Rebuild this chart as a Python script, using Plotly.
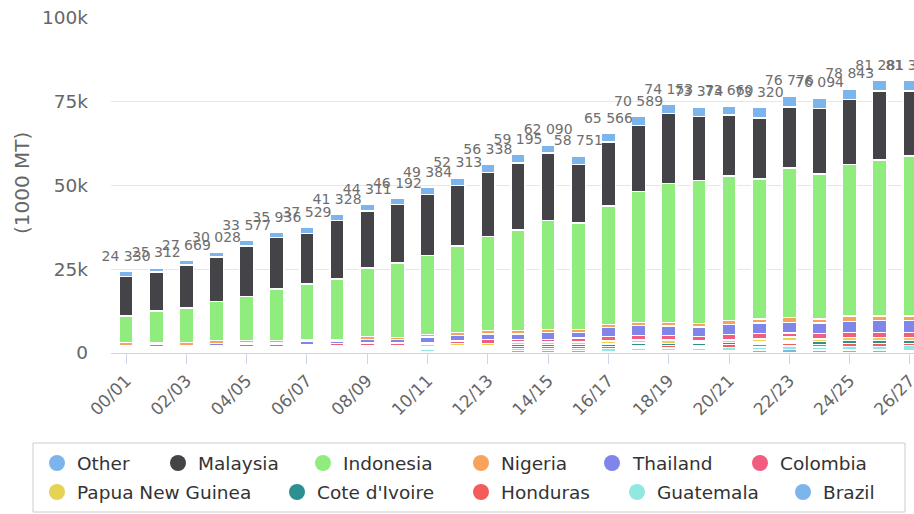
import plotly.graph_objects as go

categories = ["00/01", "01/02", "02/03", "03/04", "04/05", "05/06", "06/07", "07/08", "08/09",
              "09/10", "10/11", "11/12", "12/13", "13/14", "14/15", "15/16", "16/17", "17/18",
              "18/19", "19/20", "20/21", "21/22", "22/23", "23/24", "24/25", "25/26", "26/27"]

other = [1530, 1062, 1339, 1368, 1577, 1486, 1799, 1828, 1871, 1812, 2114, 2263, 2508, 2495,
         2440, 2441, 2566, 2649, 2633, 2844, 2590, 3230, 3316, 3084, 3153, 3111, 3167]
malaysia = [11800, 11780, 12970, 13300, 15150, 15330, 15130, 17400, 17040, 17540, 18100, 18110,
            19000, 19990, 20040, 17540, 19130, 19740, 20880, 18990, 18190, 18170, 18260, 19590,
            19380, 20520, 19390]
indonesia = [7900, 9400, 10290, 11560, 13050, 15320, 16600, 18100, 20450, 22280, 23620, 25800,
             28180, 30060, 32660, 31820, 35370, 39160, 41540, 42800, 43190, 41780, 44670, 43280,
             45250, 46590, 47720]
nigeria = [900, 400, 900, 900, 800, 800, 400, 400, 900, 500, 800, 900, 1000, 1000, 900, 900, 900,
           900, 1100, 1000, 1200, 1200, 1400, 1200, 1700, 1300, 1300]
thailand = [350, 800, 350, 700, 450, 450, 1000, 800, 1100, 1100, 1600, 1600, 1600, 1600, 2000,
            1500, 2700, 2900, 2800, 2800, 2900, 3100, 3100, 3100, 3200, 3600, 3600]
colombia = [350, 350, 350, 450, 800, 800, 500, 700, 800, 700, 450, 800, 1200, 800, 800, 1300,
            1300, 1300, 1300, 1300, 1700, 1700, 1300, 1700, 1500, 1500, 1500]
papua_new_guinea = [350, 350, 350, 400, 450, 450, 450, 450, 500, 500, 800, 550, 550, 700, 700,
                    700, 900, 1000, 1000, 600, 800, 800, 1100, 700, 1000, 1000, 1000]
cote_divoire = [300, 300, 300, 350, 350, 350, 400, 400, 400, 400, 450, 550, 550, 600, 600, 600,
                700, 800, 700, 900, 600, 600, 700, 900, 800, 800, 800]
honduras = [300, 300, 300, 350, 350, 350, 400, 400, 400, 400, 450, 550, 550, 600, 600, 600, 700,
            700, 700, 700, 900, 900, 900, 700, 900, 900, 600]
guatemala = [250, 250, 220, 300, 250, 250, 400, 400, 400, 450, 500, 600, 600, 650, 650, 650, 800,
             900, 900, 900, 1000, 1000, 1000, 1000, 1000, 1000, 1600]
brazil = [300, 320, 300, 350, 350, 350, 450, 450, 450, 510, 500, 590, 600, 700, 700, 700, 500,
          540, 600, 540, 590, 840, 1030, 840, 960, 960, 660]

series_names = ["Other", "Malaysia", "Indonesia", "Nigeria", "Thailand", "Colombia",
                "Papua New Guinea", "Cote d'Ivoire", "Honduras", "Guatemala", "Brazil"]
series_values = [other, malaysia, indonesia, nigeria, thailand, colombia, papua_new_guinea,
                 cote_divoire, honduras, guatemala, brazil]
colors = ["#7cb5ec", "#434348", "#90ed7d", "#f7a35c", "#8085e9", "#f15c80", "#e4d354",
          "#2b908f", "#f45b5b", "#91e8e1", "#7cb5ec"]

y_ticks = [0, 25000, 50000, 75000, 100000]
y_ticktext = ["0", "25k", "50k", "75k", "100k"]

FONT = "DejaVu Sans"
W, H = 914, 514
PL, PR, PT, PB = 111, 914, 18, 353  # plot area in pixels

fig = go.Figure()
# Highcharts stacks first series on top -> add in reverse order
for name, vals, col in reversed(list(zip(series_names, series_values, colors))):
    fig.add_trace(go.Bar(
        x=categories, y=vals, name=name,
        marker=dict(color=col, line=dict(color="white", width=1.5)),
        showlegend=False))

totals = [sum(v[i] for v in series_values) for i in range(len(categories))]
fig.add_trace(go.Scatter(
    x=categories, y=totals, mode="markers+text", cliponaxis=False,
    marker=dict(size=10, color="rgba(0,0,0,0)"),
    text=[f"{t:,}".replace(",", " ") for t in totals],
    textposition="top center",
    textfont=dict(family=FONT, size=14, color="#6e6e6e"),
    showlegend=False, hoverinfo="skip"))

fig.update_layout(
    width=W, height=H,
    margin=dict(l=PL, r=W - PR, t=PT, b=H - PB, autoexpand=False),
    barmode="stack", bargap=0.53,
    plot_bgcolor="white", paper_bgcolor="white",
    font=dict(family=FONT, color="#666666"),
    xaxis=dict(
        type="category", range=[-0.5, 26.135], automargin=False,
        tickmode="array", tickvals=categories[::2], ticktext=categories[::2],
        tickangle=-45, tickfont=dict(size=17, color="#666666"),
        ticks="outside", ticklen=10, tickcolor="#ccd6eb", tickwidth=1,
        showline=True, linecolor="#ccd6eb", linewidth=1, showgrid=False),
    yaxis=dict(
        range=[0, 100000], tickvals=y_ticks, ticktext=y_ticktext, automargin=False,
        tickfont=dict(size=18.5, color="#666666"),
        showgrid=True, gridcolor="#e6e6e6", gridwidth=1, zeroline=False,
        ticklabelstandoff=22),
)

pw, ph = PR - PL, PB - PT
def px(x):
    return (x - PL) / pw
def py(y):
    return (PB - y) / ph

shapes = []
annotations = []
annotations.append(dict(
    text="(1000 MT)", textangle=-90, x=px(22), y=py(183), xref="paper", yref="paper",
    showarrow=False, font=dict(family=FONT, size=20, color="#666666"),
    xanchor="center", yanchor="middle"))

# legend box
shapes.append(dict(type="rect", xref="paper", yref="paper", x0=px(33), x1=px(905),
                   y0=py(443), y1=py(512), line=dict(color="#cccccc", width=1),
                   fillcolor="rgba(0,0,0,0)"))
legend_pos = [(57, 463), (178, 463), (323, 463), (481, 463), (612, 463), (760, 463),
              (57, 492), (297, 492), (481, 492), (637, 492), (803, 492)]
r = 8
for (cx, cy), name, col in zip(legend_pos, series_names, colors):
    shapes.append(dict(type="circle", xref="paper", yref="paper",
                       x0=px(cx - r), x1=px(cx + r), y0=py(cy + r), y1=py(cy - r),
                       fillcolor=col, line=dict(width=0)))
    annotations.append(dict(text=name, x=px(cx + 18), y=py(cy), xref="paper", yref="paper",
                            showarrow=False, xanchor="left", yanchor="middle",
                            font=dict(family=FONT, size=18.5, color="#333333")))

fig.update_layout(shapes=shapes, annotations=annotations)
fig.write_html(
    "out.html",
    config={"displayModeBar": False},
    post_script="document.body.style.margin='0px';document.body.style.overflow='hidden';")
